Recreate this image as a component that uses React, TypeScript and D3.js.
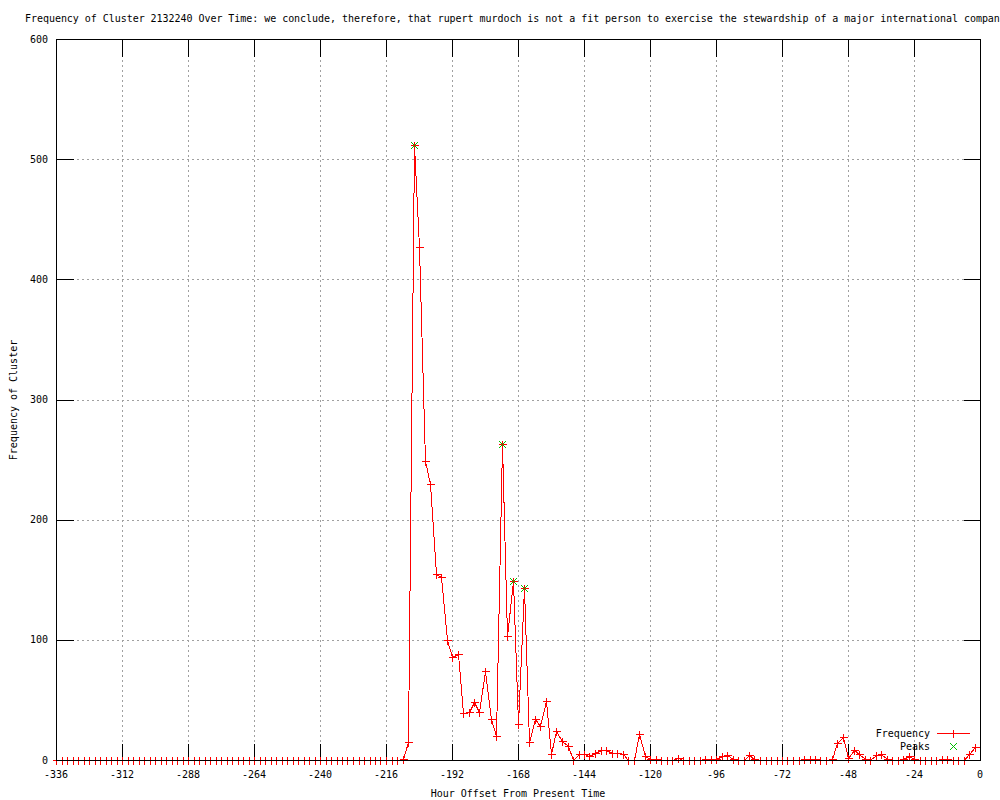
import React from "react";
import * as d3 from "d3";

const TITLE =
  "Frequency of Cluster 2132240 Over Time: we conclude, therefore, that rupert murdoch is not a fit person to exercise the stewardship of a major international company";
const X_LABEL = "Hour Offset From Present Time";
const Y_LABEL = "Frequency of Cluster";

// hour offsets, every 2 hours from -336 to -2
const hours: number[] = d3.range(-336, 0, 2);

// frequency values, one per hour offset
const freq: number[] = [
  // -336 .. -222
  0, 0, 0, 0, 0, 0, 0, 0, 0, 0,
  0, 0, 0, 0, 0, 0, 0, 0, 0, 0,
  0, 0, 0, 0, 0, 0, 0, 0, 0, 0,
  0, 0, 0, 0, 0, 0, 0, 0, 0, 0,
  0, 0, 0, 0, 0, 0, 0, 0, 0, 0,
  0, 0, 0, 0, 0, 0, 0, 0,
  // -220 .. -202
  0, 0, 0, 0, 0, 1, 15, 512, 427, 249,
  // -200 .. -182
  230, 155, 152, 100, 86, 88, 39, 40, 48, 40,
  // -180 .. -162
  74, 34, 20, 263, 103, 149, 30, 143, 15, 34,
  // -160 .. -142
  28, 49, 5, 24, 16, 12, 0, 5, 5, 3,
  // -140 .. -122
  6, 8, 8, 6, 6, 5, 0, 0, 22, 3,
  // -120 .. -102
  1, 1, 0, 0, 0, 2, 0, 0, 0, 0,
  // -100 .. -82
  1, 1, 1, 3, 4, 1, 0, 0, 4, 1,
  // -80 .. -62
  0, 0, 0, 0, 0, 0, 0, 0, 1, 1,
  // -60 .. -42
  1, 0, 0, 1, 14, 19, 2, 8, 5, 1,
  // -40 .. -22
  0, 4, 5, 1, 0, 0, 1, 3, 1, 0,
  // -20 .. -2
  0, 0, 0, 1, 1, 0, 0, 0, 5, 11,
];

const peakHours: number[] = [-206, -174, -170, -166];
const peakValues: number[] = [512, 263, 149, 143];

const xTicks: number[] = [-336, -312, -288, -264, -240, -216, -192, -168, -144, -120, -96, -72, -48, -24, 0];
const yTicks: number[] = [0, 100, 200, 300, 400, 500, 600];

const W = 1000;
const H = 800;
const L = 56;
const R = 980;
const T = 39;
const B = 760;
const TIC = 17;
const FONT = "'DejaVu Sans Mono', 'Liberation Mono', monospace";
const RED = "#ff0000";
const GREEN = "#00c000";
const GRID = "#a0a0a0";

export default function App() {
  const x = d3.scaleLinear().domain([-336, 0]).range([L, R]);
  const y = d3.scaleLinear().domain([0, 600]).range([B, T]);

  const pts = hours.map((h, i) => [h, freq[i]] as [number, number]);
  const line = d3
    .line<[number, number]>()
    .x((d) => Math.round(x(d[0])) + 0.5)
    .y((d) => Math.round(y(d[1])) + 0.5);

  const px = (v: number) => Math.round(x(v)) + 0.5;
  const py = (v: number) => Math.round(y(v)) + 0.5;
  const S = 3.5;

  const plus = (cx: number, cy: number, key: string, color: string) => (
    <g key={key}>
      <line x1={cx - S - 0.5} x2={cx + S + 0.5} y1={cy} y2={cy} stroke={color} strokeWidth={1} />
      <line x1={cx} x2={cx} y1={cy - S - 0.5} y2={cy + S + 0.5} stroke={color} strokeWidth={1} />
    </g>
  );
  const cross = (cx: number, cy: number, key: string, color: string) => (
    <g key={key}>
      <line x1={cx - S} x2={cx + S} y1={cy - S} y2={cy + S} stroke={color} strokeWidth={1} />
      <line x1={cx - S} x2={cx + S} y1={cy + S} y2={cy - S} stroke={color} strokeWidth={1} />
    </g>
  );

  const bl = Math.round(x(-336)) + 0.5;
  const br = Math.round(x(0)) + 0.5;
  const bt = Math.round(y(600)) + 0.5;
  const bb = Math.round(y(0)) + 0.5;

  return (
    <svg
      width={W}
      height={H}
      viewBox={`0 0 ${W} ${H}`}
      style={{ position: "absolute", left: 0, top: 0, background: "#fff" }}
      fontFamily={FONT}
      fontSize={10}
    >
      <rect x={0} y={0} width={W} height={H} fill="#fff" />
      {/* grid */}
      <g stroke={GRID} strokeWidth={1} strokeDasharray="2,3" shapeRendering="crispEdges">
        {xTicks
          .filter((t) => t !== -336 && t !== 0)
          .map((t) => (
            <line key={"gx" + t} x1={px(t)} x2={px(t)} y1={bt} y2={bb} />
          ))}
        {yTicks
          .filter((t) => t !== 0 && t !== 600)
          .map((t) => (
            <line key={"gy" + t} x1={bl} x2={br} y1={py(t)} y2={py(t)} />
          ))}
      </g>
      {/* ticks */}
      <g stroke="#000" strokeWidth={1} shapeRendering="crispEdges">
        {xTicks.map((t) => (
          <g key={"tx" + t}>
            <line x1={px(t)} x2={px(t)} y1={bb} y2={bb - TIC} />
            <line x1={px(t)} x2={px(t)} y1={bt} y2={bt + TIC} />
          </g>
        ))}
        {yTicks.map((t) => (
          <g key={"ty" + t}>
            <line x1={bl} x2={bl + TIC} y1={py(t)} y2={py(t)} />
            <line x1={br} x2={br - TIC} y1={py(t)} y2={py(t)} />
          </g>
        ))}
      </g>
      {/* tick labels */}
      <g fill="#000">
        {xTicks.map((t) => (
          <text key={"lx" + t} x={x(t)} y={778} textAnchor="middle">
            {String(t)}
          </text>
        ))}
        {yTicks.map((t) => (
          <text key={"ly" + t} x={48} y={y(t) + 3.5} textAnchor="end">
            {String(t)}
          </text>
        ))}
      </g>
      {/* data line */}
      <path d={line(pts) || ""} fill="none" stroke={RED} strokeWidth={1} shapeRendering="crispEdges" />
      <g shapeRendering="crispEdges">
        {pts.map((d, i) => plus(px(d[0]), py(d[1]), "p" + i, RED))}
      </g>
      {/* peaks */}
      <g shapeRendering="crispEdges">
        {peakHours.map((h, i) => cross(px(h), py(peakValues[i]), "k" + i, GREEN))}
      </g>
      {/* border */}
      <rect
        x={bl}
        y={bt}
        width={br - bl}
        height={bb - bt}
        fill="none"
        stroke="#000"
        strokeWidth={1}
        shapeRendering="crispEdges"
      />
      {/* legend */}
      <g>
        <text x={930} y={736.5} textAnchor="end" fill="#000">
          Frequency
        </text>
        <g shapeRendering="crispEdges">
          <line x1={937} x2={970} y1={733.5} y2={733.5} stroke={RED} strokeWidth={1} />
          {plus(953.5, 733.5, "lg1", RED)}
        </g>
        <text x={930} y={749.5} textAnchor="end" fill="#000">
          Peaks
        </text>
        <g shapeRendering="crispEdges">{cross(953.5, 746.5, "lg2", GREEN)}</g>
      </g>
      {/* title and axis labels */}
      <text x={25} y={22} fill="#000" letterSpacing="-0.04px">
        {TITLE}
      </text>
      <text x={518} y={797} textAnchor="middle" fill="#000">
        {X_LABEL}
      </text>
      <text transform="translate(17,400) rotate(-90)" textAnchor="middle" fill="#000">
        {Y_LABEL}
      </text>
    </svg>
  );
}
